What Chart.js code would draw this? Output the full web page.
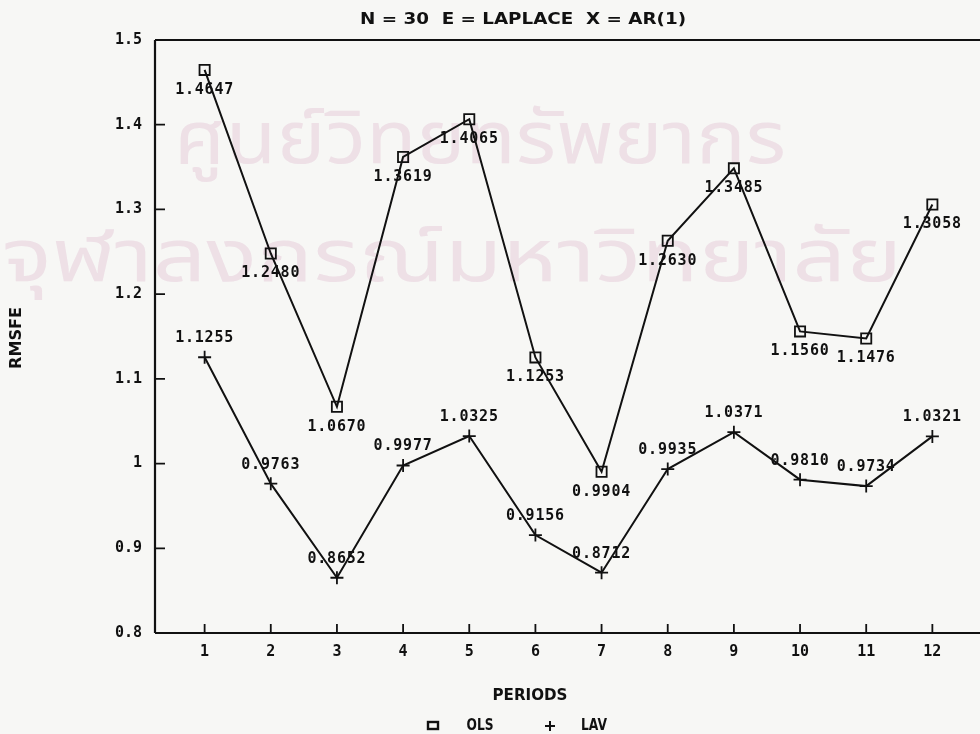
<!DOCTYPE html>
<html>
<head>
<meta charset="utf-8">
<script src="https://cdn.jsdelivr.net/npm/chart.js@4/dist/chart.umd.min.js"></script>
<style>
  html, body { margin: 0; padding: 0; background: #f7f7f5; }
  #wrap { width: 980px; height: 734px; position: relative; }
</style>
</head>
<body>
<div id="wrap"><canvas id="c" width="980" height="734"></canvas></div>
<script>
// RMSFE by forecast period for the two estimators
const periods = [1, 2, 3, 4, 5, 6, 7, 8, 9, 10, 11, 12];
const olsRmsfe = [1.4647, 1.2480, 1.0670, 1.3619, 1.4065, 1.1253, 0.9904, 1.2630, 1.3485, 1.1560, 1.1476, 1.3058];
const lavRmsfe = [1.1255, 0.9763, 0.8652, 0.9977, 1.0325, 0.9156, 0.8712, 0.9935, 1.0371, 0.9810, 0.9734, 1.0321];
const yTickValues = [0.8, 0.9, 1.0, 1.1, 1.2, 1.3, 1.4, 1.5];
const yTickLabels = ['0.8', '0.9', '1', '1.1', '1.2', '1.3', '1.4', '1.5'];
const xTickLabels = ['1', '2', '3', '4', '5', '6', '7', '8', '9', '10', '11', '12'];
const chartTitle = 'N = 30  E = LAPLACE  X = AR(1)';
const xTitle = 'PERIODS';
const yTitle = 'RMSFE';
const seriesNames = ['OLS', 'LAV'];
const stampLines = ['ศูนย์วิทยทรัพยากร', 'จุฬาลงกรณ์มหาวิทยาลัย'];

const INK = '#111';
const LABEL_FONT = 'bold 15px "DejaVu Sans Mono", monospace';
const AXIS_FONT = 'bold 15px "DejaVu Sans Mono", monospace';
const SANS = '"DejaVu Sans Condensed", "DejaVu Sans", sans-serif';

function text(ctx, s, x, y, font, align, spacing, fitWidth) {
  ctx.save();
  ctx.font = font;
  ctx.fillStyle = INK;
  ctx.textAlign = align || 'center';
  ctx.textBaseline = 'middle';
  if ('letterSpacing' in ctx) ctx.letterSpacing = (spacing || 0) + 'px';
  if (fitWidth) {
    const w = ctx.measureText(s).width;
    ctx.translate(x, y);
    ctx.scale(fitWidth / w, 1);
    ctx.fillText(s, 0, 0);
  } else {
    ctx.fillText(s, x, y);
  }
  ctx.restore();
}

// Faint library stamp behind the plot
const stampPlugin = {
  id: 'stamp',
  beforeDraw(chart) {
    const ctx = chart.ctx;
    ctx.save();
    ctx.fillStyle = 'rgba(210, 150, 185, 0.24)';
    ctx.textAlign = 'left';
    ctx.textBaseline = 'middle';
    ctx.font = '74px "Noto Sans Thai", "Noto Sans", sans-serif';
    const w1 = ctx.measureText(stampLines[0]).width;
    ctx.save(); ctx.translate(174, 148); ctx.scale(612 / w1, 1); ctx.fillText(stampLines[0], 0, 0); ctx.restore();
    const w2 = ctx.measureText(stampLines[1]).width;
    ctx.save(); ctx.translate(2, 266); ctx.scale(900 / w2, 1); ctx.fillText(stampLines[1], 0, 0); ctx.restore();
    ctx.restore();
  }
};

// Frame, inward ticks, tick labels, titles and legend
const framePlugin = {
  id: 'frame',
  beforeDatasetsDraw(chart) {
    const ctx = chart.ctx;
    const xs = chart.scales.x, ys = chart.scales.y;
    const a = chart.chartArea;
    ctx.save();
    ctx.strokeStyle = INK;
    ctx.lineWidth = 2.2;
    ctx.beginPath();
    ctx.moveTo(a.left, a.top); ctx.lineTo(a.right, a.top);
    ctx.moveTo(a.left, a.top); ctx.lineTo(a.left, a.bottom);
    ctx.moveTo(a.left, a.bottom); ctx.lineTo(a.right, a.bottom);
    ctx.stroke();
    ctx.lineWidth = 1.8;
    ctx.beginPath();
    yTickValues.forEach(v => {
      const y = ys.getPixelForValue(v);
      ctx.moveTo(a.left, y); ctx.lineTo(a.left + 10, y);
    });
    periods.forEach(p => {
      const x = xs.getPixelForValue(p);
      ctx.moveTo(x, a.bottom); ctx.lineTo(x, a.bottom - 9);
    });
    ctx.stroke();
    ctx.restore();

    yTickValues.forEach((v, i) => text(ctx, yTickLabels[i], a.left - 13, ys.getPixelForValue(v), AXIS_FONT, 'right'));
    periods.forEach((p, i) => text(ctx, xTickLabels[i], xs.getPixelForValue(p), a.bottom + 19, AXIS_FONT, 'center'));

    text(ctx, chartTitle, 523, 20, 'bold 16px ' + SANS, 'center', 0, 326);
    text(ctx, xTitle, 530, 696, 'bold 15px ' + SANS, 'center', 0, 75);
    ctx.save();
    ctx.translate(17, 338);
    ctx.rotate(-Math.PI / 2);
    text(ctx, yTitle, 0, 0, 'bold 15px ' + SANS, 'center', 0, 62);
    ctx.restore();

    // legend
    ctx.save();
    ctx.strokeStyle = INK;
    ctx.lineWidth = 2.4;
    ctx.strokeRect(428, 722, 10, 7);
    ctx.lineWidth = 2;
    ctx.beginPath();
    ctx.moveTo(545, 726); ctx.lineTo(555, 726);
    ctx.moveTo(550, 721); ctx.lineTo(550, 731);
    ctx.stroke();
    ctx.restore();
    text(ctx, seriesNames[0], 480, 726, 'bold 15px ' + SANS, 'center', 0, 27);
    text(ctx, seriesNames[1], 594, 726, 'bold 15px ' + SANS, 'center', 0, 26);
  },
  afterDatasetsDraw(chart) {
    const ctx = chart.ctx;
    chart.data.datasets.forEach((ds, di) => {
      const meta = chart.getDatasetMeta(di);
      const dy = di === 0 ? 20 : -19;
      meta.data.forEach((pt, i) => {
        text(ctx, ds.data[i].y.toFixed(4), pt.x, pt.y + dy, LABEL_FONT, 'center', 0.8);
      });
    });
  }
};

new Chart(document.getElementById('c'), {
  type: 'line',
  data: {
    datasets: [
      {
        label: seriesNames[0],
        data: periods.map((p, i) => ({ x: p, y: olsRmsfe[i] })),
        borderColor: INK,
        borderWidth: 2,
        pointStyle: 'rect',
        pointRadius: 7.2,
        pointBorderWidth: 1.8,
        pointBorderColor: INK,
        pointBackgroundColor: 'rgba(0,0,0,0)',
        tension: 0,
        clip: false
      },
      {
        label: seriesNames[1],
        data: periods.map((p, i) => ({ x: p, y: lavRmsfe[i] })),
        borderColor: INK,
        borderWidth: 2,
        pointStyle: 'cross',
        pointRadius: 6.5,
        pointBorderWidth: 1.8,
        pointBorderColor: INK,
        tension: 0,
        clip: false
      }
    ]
  },
  options: {
    responsive: false,
    animation: false,
    events: [],
    layout: { autoPadding: false, padding: { left: 155, right: 0, top: 40, bottom: 101 } },
    plugins: { legend: { display: false }, tooltip: { enabled: false }, title: { display: false } },
    scales: {
      x: { type: 'linear', display: false, min: 0.25, max: 12.72 },
      y: { type: 'linear', display: false, min: 0.8, max: 1.5 }
    }
  },
  plugins: [stampPlugin, framePlugin]
});
</script>
</body>
</html>
